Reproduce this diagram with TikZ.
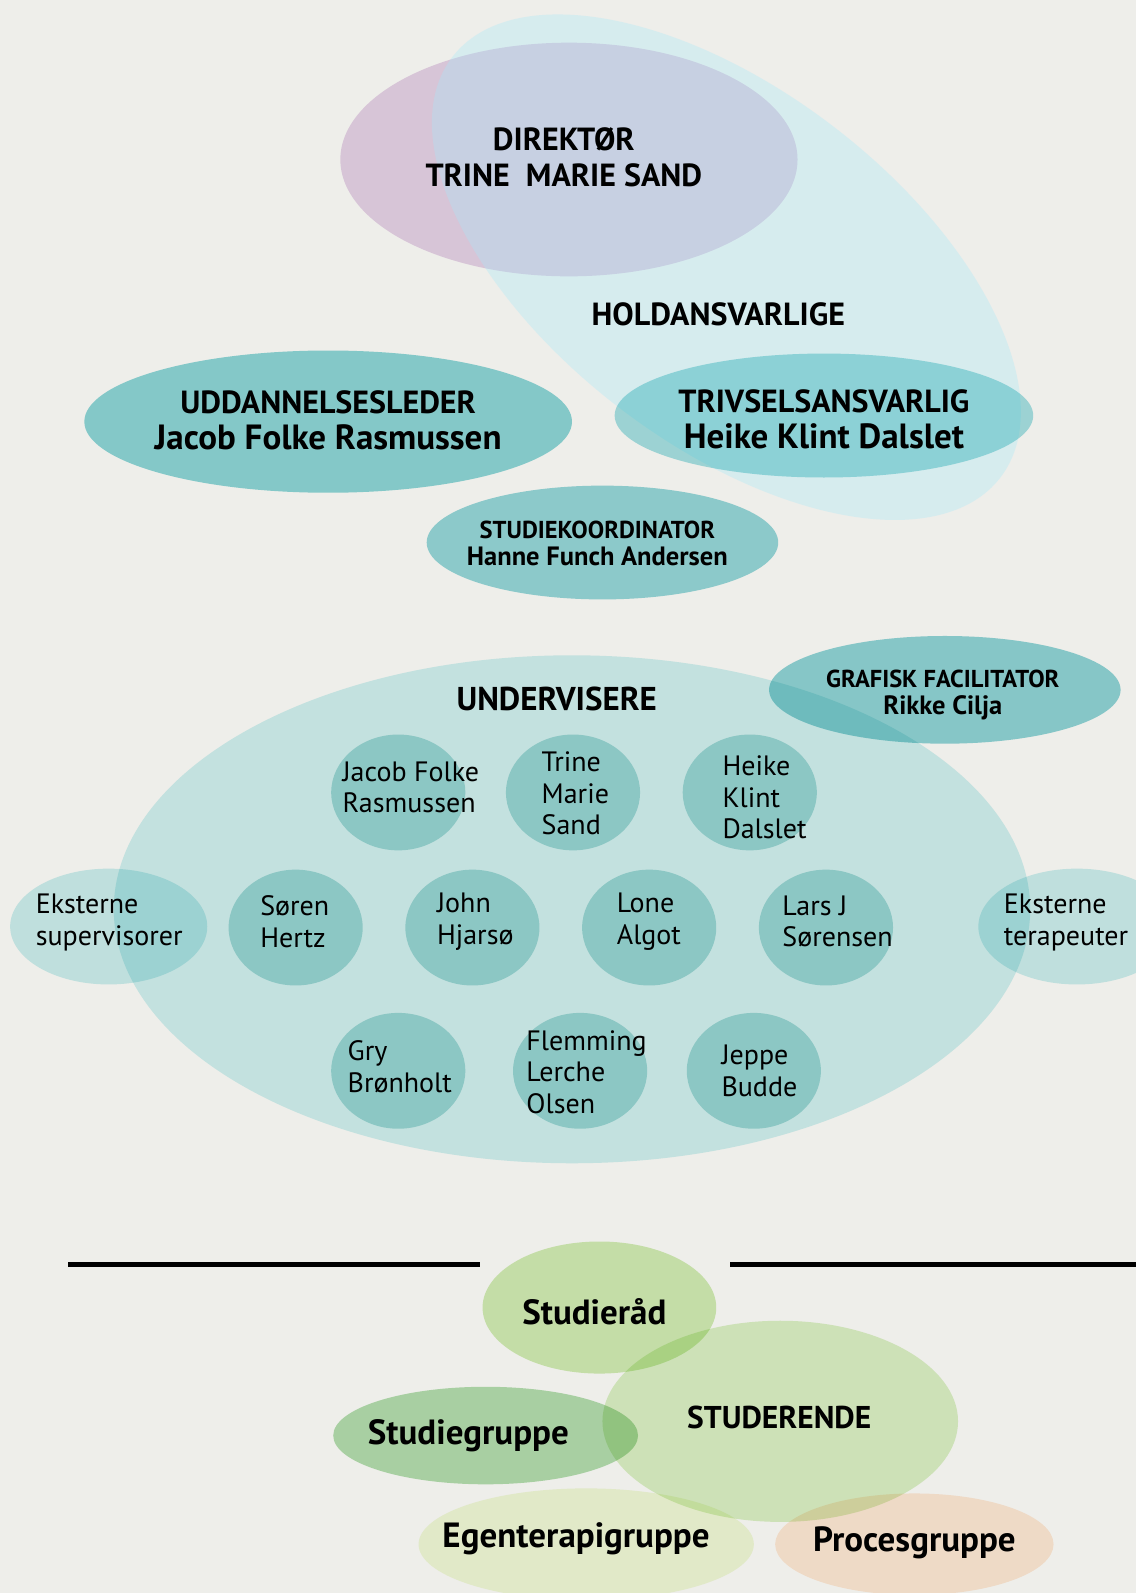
\documentclass[tikz,border=0pt]{standalone}
\usepackage{fontspec}
\setmainfont{PT Sans}
\definecolor{bgcol}{HTML}{EEEEEA}
\definecolor{dirpink}{HTML}{E7D4EB}
\definecolor{holdcyan}{HTML}{A8E8F9}
\definecolor{tealdark}{HTML}{8ED7DB}
\definecolor{tealmid}{HTML}{A8E2E6}
\definecolor{tealko}{HTML}{97D8DD}
\definecolor{tealgraf}{HTML}{90D5D9}
\definecolor{tealbig}{HTML}{D1F2F4}
\definecolor{tealsmall}{HTML}{B8E2E1}
\definecolor{tealext}{HTML}{CDEFF1}
\definecolor{greenraad}{HTML}{D3EDB7}
\definecolor{greenstud}{HTML}{DCF2C8}
\definecolor{greengrp}{HTML}{B5DEB1}
\definecolor{greenpale}{HTML}{F2FADA}
\definecolor{peach}{HTML}{FFEAD8}
\newcommand{\fsz}[1]{\fontsize{#1}{36}\selectfont}

\begin{document}
\begin{tikzpicture}[x=1.016pt, y=-1.016pt,
    bigtext/.style={font=\bfseries\fsz{32}, align=center, inner sep=0pt},
    headtext/.style={font=\bfseries\fsz{32}, inner sep=0pt},
    midtext/.style={font=\bfseries\fontsize{24.5}{27.5}\selectfont, align=center, inner sep=0pt},
    nametext/.style={font=\fontsize{28}{31.5}\selectfont, align=left, anchor=west, inner sep=0pt},
    greentext/.style={font=\bfseries\fsz{35}, inner sep=0pt}]
% Background
\fill[bgcol] (0,0) rectangle (1118,1568);
\useasboundingbox (0,0) rectangle (1118,1568);

% Direktor and holdansvarlige
\fill[blend mode=multiply, dirpink] (560,157) ellipse [x radius=225, y radius=115];
\begin{scope}[shift={(715,263)}, rotate=-37.5]
\fill[holdcyan, fill opacity=0.33] (0,0) ellipse [x radius=340, y radius=174];
\end{scope}

\begin{scope}[blend mode=multiply]
\fill[tealdark] (323,415) ellipse [x radius=240, y radius=70];
\fill[tealmid] (811,409) ellipse [x radius=206, y radius=61];
\fill[tealko] (593,534) ellipse [x radius=173, y radius=56];

% Undervisere
\fill[tealbig] (563,895) ellipse [x radius=451, y radius=250];
\fill[tealgraf] (930,679) ellipse [x radius=173, y radius=53];
\foreach \cx/\cy in {392/780, 564/780, 738/780, 291/913, 465/913, 639/913, 813/913, 392/1054, 571/1054, 742/1054}
  \fill[tealsmall] (\cx,\cy) ellipse [x radius=66, y radius=57];
\fill[tealext] (107,912) ellipse [x radius=97, y radius=57];
\fill[tealext] (1060,912) ellipse [x radius=97, y radius=57];

% Studerende
\fill[greenraad] (590,1287) ellipse [x radius=115, y radius=65];
\fill[greenstud] (768,1399) ellipse [x radius=175, y radius=99];
\fill[greengrp] (478,1413) ellipse [x radius=150, y radius=48];
\fill[greenpale] (577,1520) ellipse [x radius=165, y radius=55];
\fill[peach] (900,1520) ellipse [x radius=137, y radius=50];
\end{scope}

% Separator lines
\coordinate (lineLa) at (67,1245);
\coordinate (lineLb) at (472,1245);
\coordinate (lineRa) at (719,1245);
\coordinate (lineRb) at (1118,1245);
\draw[line width=5pt] (lineLa) -- (lineLb);
\draw[line width=5pt] (lineRa) -- (lineRb);

% Labels
\node[bigtext] (dir) at (555,155) {DIREKTØR\\TRINE\ \ MARIE SAND};
\node[headtext] (hold) at (707,309) {HOLDANSVARLIGE};
\node[bigtext] (udd) at (323,414) {UDDANNELSESLEDER\\{\fsz{35}Jacob Folke Rasmussen}};
\node[bigtext] (triv) at (811,413) {TRIVSELSANSVARLIG\\{\fsz{35}Heike Klint Dalslet}};
\node[midtext] (studko) at (588,535) {STUDIEKOORDINATOR\\{\fontsize{26.5}{27.5}\selectfont Hanne Funch Andersen}};
\node[midtext] (graf) at (928,684) {GRAFISK FACILITATOR\\{\fontsize{26.5}{27.5}\selectfont Rikke Cilja}};
\node[headtext, font=\bfseries\fsz{33}] (underv) at (548,688) {UNDERVISERE};

\node[nametext] (jacob) at (337,775) {Jacob Folke\\Rasmussen};
\node[nametext] (trine) at (533,781) {Trine\\Marie\\Sand};
\node[nametext] (heike) at (711,785) {Heike\\Klint\\Dalslet};
\node[nametext] (eksup) at (35,908) {Eksterne\\supervisorer};
\node[nametext] (soeren) at (256,907) {Søren\\Hertz};
\node[nametext] (john) at (430,907) {John\\Hjarsø};
\node[nametext] (lone) at (607,907) {Lone\\Algot};
\node[nametext] (lars) at (770,907) {Lars J\\Sørensen};
\node[nametext] (ekster) at (988,908) {Eksterne\\terapeuter};
\node[nametext] (gry) at (342,1050) {Gry\\Brønholt};
\node[nametext] (flemming) at (518,1055) {Flemming\\Lerche\\Olsen};
\node[nametext] (jeppe) at (710,1054) {Jeppe\\Budde};

\node[greentext] (raad) at (585,1291) {Studieråd};
\node[greentext, font=\bfseries\fsz{31.5}] (studerende) at (767,1395) {STUDERENDE};
\node[greentext] (sgruppe) at (461,1413) {Studiegruppe};
\node[greentext] (egen) at (567,1515) {Egenterapigruppe};
\node[greentext] (proces) at (900,1519) {Procesgruppe};
\end{tikzpicture}
\end{document}
